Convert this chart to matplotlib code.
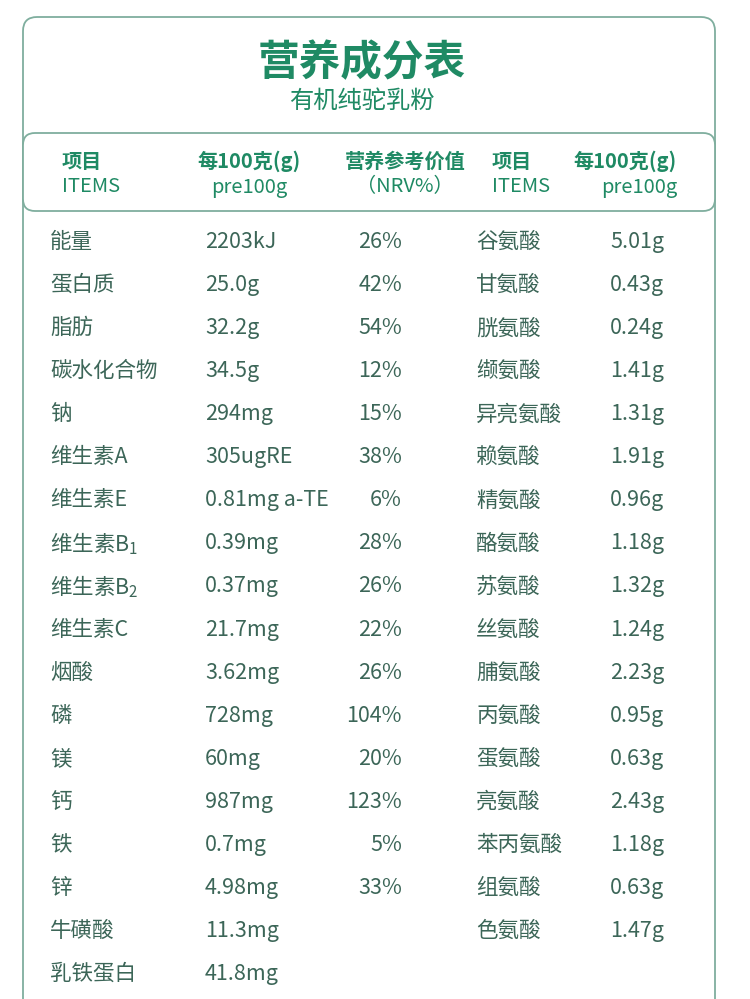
import matplotlib
matplotlib.use("Agg")
import matplotlib.pyplot as plt
from matplotlib.patches import FancyBboxPatch

plt.rcParams['font.family'] = ['Noto Sans CJK SC', 'DejaVu Sans']
plt.rcParams['mathtext.fontset'] = 'custom'
plt.rcParams['mathtext.rm'] = 'Noto Sans CJK SC'

title = "营养成分表"
subtitle = "有机纯驼乳粉"
items = ["能量", "蛋白质", "脂肪", "碳水化合物", "钠", "维生素A", "维生素E", r"维生素B$_1$",
         r"维生素B$_2$", "维生素C", "烟酸", "磷", "镁", "钙", "铁", "锌", "牛磺酸", "乳铁蛋白"]
per100 = ["2203kJ", "25.0g", "32.2g", "34.5g", "294mg", "305ugRE", "0.81mg a-TE", "0.39mg",
          "0.37mg", "21.7mg", "3.62mg", "728mg", "60mg", "987mg", "0.7mg", "4.98mg", "11.3mg", "41.8mg"]
nrv = ["26%", "42%", "54%", "12%", "15%", "38%", "6%", "28%", "26%", "22%", "26%", "104%",
       "20%", "123%", "5%", "33%", "", ""]
amino = ["谷氨酸", "甘氨酸", "胱氨酸", "缬氨酸", "异亮氨酸", "赖氨酸", "精氨酸", "酪氨酸", "苏氨酸",
         "丝氨酸", "脯氨酸", "丙氨酸", "蛋氨酸", "亮氨酸", "苯丙氨酸", "组氨酸", "色氨酸"]
amino_val = ["5.01g", "0.43g", "0.24g", "1.41g", "1.31g", "1.91g", "0.96g", "1.18g", "1.32g",
             "1.24g", "2.23g", "0.95g", "0.63g", "2.43g", "1.18g", "0.63g", "1.47g"]

GREEN = "#1f8a64"
LINE = "#7fae9e"
TXT = "#3c6658"

fig = plt.figure(figsize=(7.5, 9.99), dpi=100)
ax = fig.add_axes([0, 0, 1, 1])
ax.set_xlim(0, 750)
ax.set_ylim(999, 0)
ax.axis('off')

ax.add_patch(FancyBboxPatch((23, 17), 692, 1100, boxstyle="round,pad=0,rounding_size=14",
                            fc="white", ec=LINE, lw=1.3))
ax.add_patch(FancyBboxPatch((23, 133), 692, 78, boxstyle="round,pad=0,rounding_size=12",
                            fc="white", ec=LINE, lw=1.3))

ax.text(362, 63, title, fontsize=30, fontweight='bold', color=GREEN, ha='center', va='center')
ax.text(362, 101, subtitle, fontsize=17.5, color=GREEN, ha='center', va='center')

hb = dict(fontsize=14.5, fontweight='bold', color=GREEN, va='center')
hn = dict(fontsize=14.5, color=GREEN, va='center')
ax.text(62, 161, "项目", ha='left', **hb)
ax.text(62, 187, "ITEMS", ha='left', **hn)
ax.text(249, 161, "每100克(g)", ha='center', **hb)
ax.text(249, 187, "pre100g", ha='center', **hn)
ax.text(405, 161, "营养参考价值", ha='center', **hb)
ax.text(405, 187, "（NRV%）", ha='center', **hn)
ax.text(492, 161, "项目", ha='left', **hb)
ax.text(492, 187, "ITEMS", ha='left', **hn)
ax.text(677, 161, "每100克(g)", ha='right', **hb)
ax.text(677, 187, "pre100g", ha='right', **hn)

y0, dy = 242, 43.06
bt = dict(fontsize=15.5, color=TXT, va='center')
for i, (a, b, c) in enumerate(zip(items, per100, nrv)):
    y = y0 + i * dy
    ax.text(50, y, a, ha='left', **bt)
    ax.text(205, y, b, ha='left', **bt)
    ax.text(402, y, c, ha='right', **bt)
for i, (a, b) in enumerate(zip(amino, amino_val)):
    y = y0 + i * dy
    ax.text(476, y, a, ha='left', **bt)
    ax.text(664, y, b, ha='right', **bt)

fig.savefig("out.png", dpi=100, facecolor="white")
